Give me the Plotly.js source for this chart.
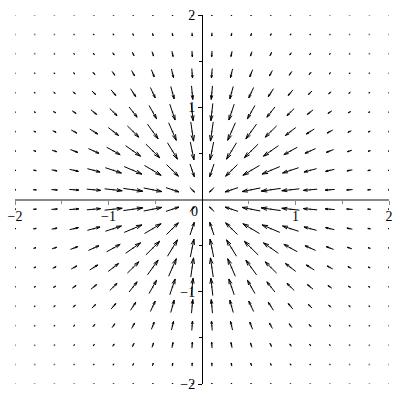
<!DOCTYPE html>
<html>
<head>
<meta charset="utf-8">
<script src="https://cdn.plot.ly/plotly-3.0.1.min.js"></script>
<style>html,body{margin:0;padding:0;background:#fff;}#chart{width:400px;height:400px;}</style>
</head>
<body>
<div id="chart"></div>
<script>
// Grid positions (20 x 20 samples over [-2, 2])
const gridX = [-2, -1.7895, -1.5789, -1.3684, -1.1579, -0.9474, -0.7368, -0.5263, -0.3158, -0.1053,
               0.1053, 0.3158, 0.5263, 0.7368, 0.9474, 1.1579, 1.3684, 1.5789, 1.7895, 2];
const gridY = gridX.slice();
// Radial pull component along one coordinate at each grid position
const pullX = [0.0366, 0.0728, 0.1306, 0.2103, 0.3029, 0.3862, 0.4282, 0.3990, 0.2858, 0.1041,
               -0.1041, -0.2858, -0.3990, -0.4282, -0.3862, -0.3029, -0.2103, -0.1306, -0.0728, -0.0366];
const pullY = pullX.slice();
// Decay factor contributed by the other coordinate
const decayX = [0.0183, 0.0407, 0.0827, 0.1537, 0.2616, 0.4076, 0.5811, 0.7581, 0.9051, 0.9890,
                0.9890, 0.9051, 0.7581, 0.5811, 0.4076, 0.2616, 0.1537, 0.0827, 0.0407, 0.0183];
const decayY = decayX.slice();

const xTickVals = [-2, -1, 1, 2];
const xTickText = ['\u22122', '\u22121', '1', '2'];
const yTickVals = [-2, -1, 1, 2];
const yTickText = ['\u22122', '\u22121', '1', '2'];
const minorTicks = [-1.5, -0.5, 0.5, 1.5];

// build vectors
const U = [], V = [], PX = [], PY = [];
let maxMag = 0;
for (let i = 0; i < gridY.length; i++) {
  for (let j = 0; j < gridX.length; j++) {
    const u = pullX[j] * decayY[i];
    const v = decayX[j] * pullY[i];
    U.push(u); V.push(v); PX.push(gridX[j]); PY.push(gridY[i]);
    maxMag = Math.max(maxMag, Math.hypot(u, v));
  }
}
const spacing = (gridX[gridX.length - 1] - gridX[0]) / (gridX.length - 1);
const shaftX = [], shaftY = [], headX = [], headY = [];
for (let k = 0; k < U.length; k++) {
  const m = Math.hypot(U[k], V[k]);
  const L = m / maxMag * spacing * 1.0;
  const ux = U[k] / m, uy = V[k] / m;
  const tx = PX[k] - ux * L / 2, ty = PY[k] - uy * L / 2;
  const hx = PX[k] + ux * L / 2, hy = PY[k] + uy * L / 2;
  shaftX.push(tx, hx, null); shaftY.push(ty, hy, null);
  const hl = 0.32 * L, ang = 16 * Math.PI / 180;
  const c = Math.cos(ang), s = Math.sin(ang);
  const b1x = hx - hl * (ux * c - uy * s), b1y = hy - hl * (uy * c + ux * s);
  const b2x = hx - hl * (ux * c + uy * s), b2y = hy - hl * (uy * c - ux * s);
  headX.push(b1x, hx, b2x, null); headY.push(b1y, hy, b2y, null);
}

const traces = [
  {x: PX, y: PY, type: 'scatter', mode: 'markers', marker: {size: 2, color: '#999'}, hoverinfo: 'skip'},
  {x: shaftX, y: shaftY, type: 'scatter', mode: 'lines', line: {color: '#000', width: 1}, hoverinfo: 'skip'},
  {x: headX, y: headY, type: 'scatter', mode: 'lines', line: {color: '#000', width: 1}, hoverinfo: 'skip'}
];

const tickFont = {family: 'Liberation Serif, Times New Roman, serif', size: 14, color: '#000'};
const layout = {
  width: 400, height: 400,
  margin: {l: 15, r: 11, t: 15, b: 16},
  paper_bgcolor: '#fff', plot_bgcolor: '#fff',
  showlegend: false,
  xaxis: {
    range: [-2, 2], showgrid: false, zeroline: false,
    showline: true, linecolor: '#888', linewidth: 2,
    anchor: 'free', position: 0.5,
    tickmode: 'array', tickvals: xTickVals, ticktext: xTickText,
    ticks: 'outside', ticklen: 4, tickcolor: '#888', tickwidth: 1,
    minor: {tickvals: minorTicks, ticks: 'outside', ticklen: 3, tickcolor: '#888'},
    tickfont: tickFont
  },
  yaxis: {
    range: [-2, 2], showgrid: false, zeroline: false,
    showline: true, linecolor: '#000', linewidth: 1,
    anchor: 'free', position: 0.5,
    tickmode: 'array', tickvals: yTickVals, ticktext: yTickText,
    ticks: 'outside', ticklen: 4, tickcolor: '#000', tickwidth: 1,
    minor: {tickvals: minorTicks, ticks: 'outside', ticklen: 3, tickcolor: '#000'},
    tickfont: tickFont
  },
  annotations: [{x: 0, y: 0, xref: 'x', yref: 'y', text: '0', showarrow: false,
                 xshift: -8, yshift: -12, font: tickFont}]
};
Plotly.newPlot('chart', traces, layout, {staticPlot: true, displayModeBar: false});
</script>
</body>
</html>
